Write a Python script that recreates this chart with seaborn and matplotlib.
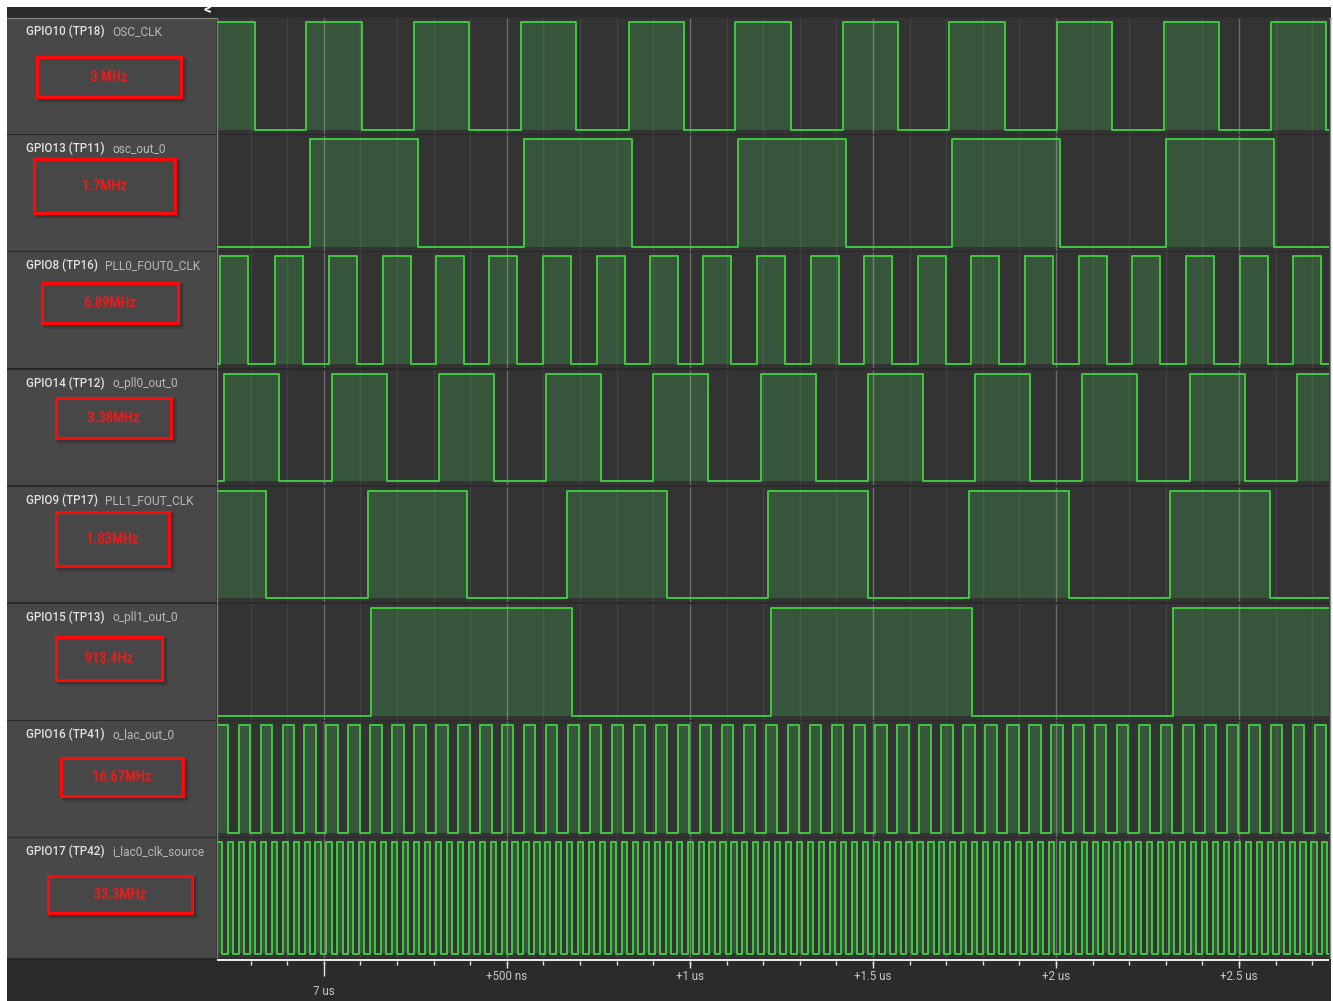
import numpy as np
import pandas as pd
import matplotlib
matplotlib.use("Agg")
import matplotlib.pyplot as plt
import matplotlib.patheffects as pe
import seaborn as sns
from matplotlib.patches import Rectangle
from matplotlib.lines import Line2D
from matplotlib import font_manager as fm

# ---------------- data (times in ns relative to 7 us) ----------------
channel_ids = ["GPIO10 (TP18)", "GPIO13 (TP11)", "GPIO8 (TP16)", "GPIO14 (TP12)",
               "GPIO9 (TP17)", "GPIO15 (TP13)", "GPIO16 (TP41)", "GPIO17 (TP42)"]
channel_names = ["OSC_CLK", "osc_out_0", "PLL0_FOUT0_CLK", "o_pll0_out_0",
                 "PLL1_FOUT_CLK", "o_pll1_out_0", "o_lac_out_0", "i_lac0_clk_source"]
freq_labels = ["3 MHz", "1.7MHz", "6.89MHz", "3.38MHz", "1.83MHz", "913.4Hz",
               "16.67MHz", "33.3MHz"]

osc_clk_rise = [-49, 246, 538, 833, 1123, 1418, 1708, 2003, 2295, 2587]
osc_clk_fall = [-188, 104, 396, 688, 984, 1276, 1568, 1860, 2153, 2445, 2737]

osc_out_rise = [-38, 546, 1131, 1716, 2300]
osc_out_fall = [257, 841, 1426, 2011, 2595]

pll0_fout0_rise = [-284, -134, 14, 161, 306, 451, 598, 746, 891, 1035, 1183,
                   1330, 1475, 1623, 1768, 1915, 2063, 2207, 2355, 2503, 2647]
pll0_fout0_fall = [-208, -57, 90, 238, 382, 527, 675, 822, 967, 1112, 1259,
                   1407, 1552, 1699, 1844, 1992, 2139, 2284, 2432, 2579, 2724]

o_pll0_rise = [-273, 22, 314, 607, 899, 1194, 1486, 1779, 2071, 2366, 2658]
o_pll0_fall = [-123, 172, 464, 757, 1049, 1344, 1637, 1929, 2221, 2516]

pll1_fout_rise = [120, 664, 1213, 1762, 2311]
pll1_fout_fall = [-158, 391, 937, 1486, 2035, 2585]

o_pll1_rise = [128, 1221, 2319]
o_pll1_fall = [678, 1770]

# fast clocks: too dense to read edge by edge -> period / high time / first rise
lac_out_period, lac_out_high, lac_out_first_rise = 60.0, 31.0, -293.0
lac_clk_period, lac_clk_high, lac_clk_first_rise = 29.9, 14.0, -292.0

time_tick_values = [0, 500, 1000, 1500, 2000, 2500]
time_tick_labels = ["7 us", "+500 ns", "+1 us", "+1.5 us", "+2 us", "+2.5 us"]
minor_tick_step = 100

XMIN, XMAX = -292.0, 2746.0

# ---------------- helpers ----------------
def clock_edges(first, period, high):
    rises = np.arange(first, XMAX, period)
    return list(rises), list(rises + high)

lac_out_rise, lac_out_fall = clock_edges(lac_out_first_rise, lac_out_period, lac_out_high)
lac_clk_rise, lac_clk_fall = clock_edges(lac_clk_first_rise, lac_clk_period, lac_clk_high)

edges = [(osc_clk_rise, osc_clk_fall), (osc_out_rise, osc_out_fall),
         (pll0_fout0_rise, pll0_fout0_fall), (o_pll0_rise, o_pll0_fall),
         (pll1_fout_rise, pll1_fout_fall), (o_pll1_rise, o_pll1_fall),
         (lac_out_rise, lac_out_fall), (lac_clk_rise, lac_clk_fall)]


def step_series(rises, falls):
    ev = sorted([(r, 1) for r in rises] + [(f, 0) for f in falls])
    level = 1 - ev[0][1]
    t, lv = [], []
    for tt, l in ev:
        if tt <= XMIN:
            level = l
        elif tt < XMAX:
            if not t:
                t.append(XMIN); lv.append(level)
            t.append(tt); lv.append(l)
            level = l
    if not t:
        t.append(XMIN); lv.append(level)
    t.append(XMAX); lv.append(lv[-1])
    return np.array(t, float), np.array(lv, float)


def pick_font(cands):
    for f in cands:
        try:
            fm.findfont(fm.FontProperties(family=f), fallback_to_default=False)
            return f
        except Exception:
            pass
    return None

ui_font = pick_font(["Roboto", "Noto Sans", "DejaVu Sans"]) or "DejaVu Sans"
narrow_font = pick_font(["Roboto Condensed", "Liberation Sans Narrow"])

# ---------------- figure ----------------
W, H = 1333, 1001
sns.set_style("dark")
plt.rcParams["font.family"] = [ui_font, "DejaVu Sans"]

fig = plt.figure(figsize=(W / 100, H / 100), dpi=100, facecolor="white")


def fx(x):
    return x / W


def fy(y):
    return 1 - y / H


def frect(x0, y0, x1, y1, z=-1, **kw):
    r = Rectangle((fx(x0), fy(y1)), (x1 - x0) / W, (y1 - y0) / H,
                  transform=fig.transFigure, zorder=z, **kw)
    fig.add_artist(r)
    return r


def fline(x0, y0, x1, y1, z=-0.5, **kw):
    fig.add_artist(Line2D([fx(x0), fx(x1)], [fy(y0), fy(y1)],
                          transform=fig.transFigure, zorder=z, **kw))

# backgrounds
frect(7, 7, 1331, H, z=-3, color="#2a2a2a", lw=0)
fline(7, 17.5, 1331, 17.5, color="#8a8a8a", lw=0.8)
fig.text(fx(208), fy(10), "<", color="white", fontsize=11, fontweight="bold",
         ha="center", va="center")

WX0, WX1 = 217, 1329
pitch = 117.2
row_h = 115.5
tops = [18 + i * pitch for i in range(8)]

BG = "#333333"
PANEL = "#484848"
FILL = "#36553a"
LINE = "#41c841"

minor_ticks = np.arange(-200, XMAX, minor_tick_step)
renderer = fig.canvas.get_renderer()

box_px = [(37, 57, 181, 97), (34, 159, 175, 213), (42, 283, 178, 323), (56, 398, 171, 438),
          (56, 512, 169, 566), (56, 637, 162, 680), (61, 758, 183, 796), (48, 876, 192, 913)]

red_fx = [pe.withStroke(linewidth=1.2, foreground=(1.0, 0.1, 0.1, 0.15))]

for i in range(8):
    top = tops[i]
    bot = top + row_h if i < 7 else 957.5
    h = bot - top
    # label panel
    frect(7, top, 216, bot, z=-2, color=PANEL, lw=0)
    # waveform axes
    ax = fig.add_axes([fx(WX0), fy(bot), (WX1 - WX0) / W, h / H])
    ax.set_facecolor(BG)
    t, lv = step_series(*edges[i])
    df = pd.DataFrame({"time_ns": t, "level": lv, "channel": channel_names[i]})
    ax.fill_between(df["time_ns"], 0, df["level"], step="post", color=FILL, lw=0, zorder=1)
    ax.vlines(minor_ticks, 0, 1, transform=ax.get_xaxis_transform(),
              color="white", alpha=0.07, lw=1, zorder=1.5)
    ax.vlines(time_tick_values, 0, 1, transform=ax.get_xaxis_transform(),
              color="white", alpha=0.22, lw=1, zorder=1.6)
    sns.lineplot(data=df, x="time_ns", y="level", ax=ax, drawstyle="steps-post",
                 color=LINE, lw=1.4, estimator=None, sort=False, legend=False, zorder=3)
    pad = 4.0 / (h - 8)
    ax.set_xlim(XMIN, XMAX)
    ax.set_ylim(-pad, 1 + pad)
    ax.set(xlabel="", ylabel="", xticks=[], yticks=[])
    ax.grid(False)
    for s in ax.spines.values():
        s.set_visible(False)
    ax.spines["left"].set_visible(True)
    ax.spines["left"].set_color("#7a7a7a")
    ax.spines["left"].set_linewidth(1)

    # labels
    ty = top + 13.5
    t1 = fig.text(fx(26), fy(ty), channel_ids[i], color="#e2e2e2", fontsize=8.4,
                  fontweight="medium", ha="left", va="center")
    bb = t1.get_window_extent(renderer)
    fig.text(fx(bb.x1 + 7.5), fy(ty), channel_names[i], color="#b8b8b8", fontsize=8.6,
             ha="left", va="center")

    # red box with shadow
    x0, y0, x1, y1 = box_px[i]
    for k, a in zip((6, 4, 2), (0.10, 0.15, 0.22)):
        frect(x0 + 1, y0 + 1, x1 + k, y1 + k, z=-1.5, color="black", alpha=a, lw=0)
    frect(x0, y0, x1, y1, z=-1.2, facecolor="#474747", edgecolor="#ff0a0a", lw=2.2)
    cx, cy = fx((x0 + x1) / 2), fy((y0 + y1) / 2)
    if narrow_font:
        fig.text(cx, cy, freq_labels[i], color="#ee1c1c", fontsize=10.5, ha="center",
                 va="center", family=narrow_font, path_effects=red_fx)
    else:
        fig.text(cx, cy, freq_labels[i], color="#ee1c1c", fontsize=10.5, ha="center",
                 va="center", family="DejaVu Sans", fontstretch="condensed",
                 path_effects=red_fx)

# right border
fline(WX1 + 0.5, 17.5, WX1 + 0.5, 958, color="#8a8a8a", lw=1)

# time axis
tax = fig.add_axes([fx(WX0), fy(H), (WX1 - WX0) / W, (H - 958) / H])
tax.set_facecolor("#2b2b2b")
tax.set_xlim(XMIN, XMAX)
tax.set_ylim(H - 958, 0)
tax.axhline(2.2, color="white", lw=1.3)
tax.vlines(minor_ticks, 3, 7, color="#e6e6e6", lw=1)
tax.vlines(time_tick_values[1:], 3, 9.5, color="#e6e6e6", lw=1)
tax.vlines(time_tick_values[:1], 3, 18, color="#e6e6e6", lw=1)
for v, lab in zip(time_tick_values, time_tick_labels):
    yy = 33.5 if v == 0 else 18.5
    tax.text(v, yy, lab, color="#c8c8c8", fontsize=8.3, ha="center", va="center")
tax.set(xticks=[], yticks=[], xlabel="", ylabel="")
tax.grid(False)
for s in tax.spines.values():
    s.set_visible(False)

fig.savefig("out.png", dpi=100, facecolor="white")
